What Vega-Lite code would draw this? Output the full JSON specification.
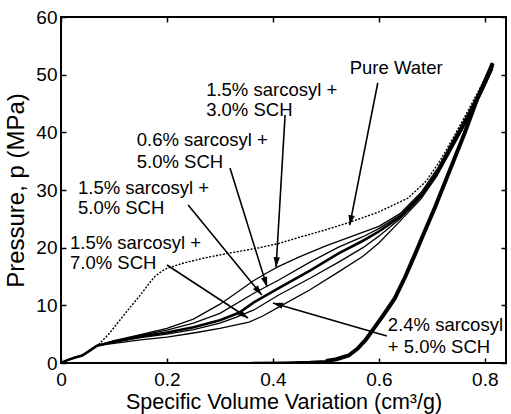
{
  "$schema": "https://vega.github.io/schema/vega-lite/v6.json",
  "width": 445,
  "height": 346,
  "autosize": "none",
  "padding": {"left": 61, "top": 17, "right": 5, "bottom": 51},
  "background": "white",
  "config": {
    "font": "Liberation Sans",
    "view": {"stroke": "black", "strokeWidth": 2},
    "axis": {"grid": false, "domain": false, "ticks": true, "tickColor": "black", "tickWidth": 1.5, "tickSize": -5, "labelColor": "black", "titleColor": "black", "labelFont": "Liberation Sans", "titleFont": "Liberation Sans", "labelFontSize": 19, "titleFontSize": 21, "titleFontWeight": "normal"}
  },
  "datasets": {
    "curves": [
      {"s": "water", "x": 0, "y": 0}, {"s": "water", "x": 0.012, "y": 0.5}, {"s": "water", "x": 0.025, "y": 0.9}, {"s": "water", "x": 0.04, "y": 1.3}, {"s": "water", "x": 0.055, "y": 2.2}, {"s": "water", "x": 0.07, "y": 3.1}, {"s": "water", "x": 0.09, "y": 5.0}, {"s": "water", "x": 0.11, "y": 7.3}, {"s": "water", "x": 0.13, "y": 9.6}, {"s": "water", "x": 0.15, "y": 11.8}, {"s": "water", "x": 0.163, "y": 13.4}, {"s": "water", "x": 0.177, "y": 15.0}, {"s": "water", "x": 0.19, "y": 15.9}, {"s": "water", "x": 0.2, "y": 16.4}, {"s": "water", "x": 0.23, "y": 17.3}, {"s": "water", "x": 0.27, "y": 18.2}, {"s": "water", "x": 0.32, "y": 19.1}, {"s": "water", "x": 0.37, "y": 19.9}, {"s": "water", "x": 0.41, "y": 20.7}, {"s": "water", "x": 0.45, "y": 21.8}, {"s": "water", "x": 0.5, "y": 23.1}, {"s": "water", "x": 0.545, "y": 24.4}, {"s": "water", "x": 0.6, "y": 26.2}, {"s": "water", "x": 0.655, "y": 28.6}, {"s": "water", "x": 0.69, "y": 31.6}, {"s": "water", "x": 0.715, "y": 35.0}, {"s": "water", "x": 0.74, "y": 39.0}, {"s": "water", "x": 0.765, "y": 43.2}, {"s": "water", "x": 0.79, "y": 47.5}, {"s": "water", "x": 0.815, "y": 51.9},

      {"s": "A", "x": 0, "y": 0}, {"s": "A", "x": 0.012, "y": 0.5}, {"s": "A", "x": 0.025, "y": 0.9}, {"s": "A", "x": 0.04, "y": 1.3}, {"s": "A", "x": 0.055, "y": 2.2}, {"s": "A", "x": 0.068, "y": 3.0}, {"s": "A", "x": 0.1, "y": 3.9}, {"s": "A", "x": 0.15, "y": 4.9}, {"s": "A", "x": 0.2, "y": 6.0}, {"s": "A", "x": 0.25, "y": 7.6}, {"s": "A", "x": 0.3, "y": 10.2}, {"s": "A", "x": 0.33, "y": 12.1}, {"s": "A", "x": 0.364, "y": 14.3}, {"s": "A", "x": 0.39, "y": 15.7}, {"s": "A", "x": 0.41, "y": 16.7}, {"s": "A", "x": 0.45, "y": 18.4}, {"s": "A", "x": 0.5, "y": 20.3}, {"s": "A", "x": 0.55, "y": 22.0}, {"s": "A", "x": 0.6, "y": 23.7}, {"s": "A", "x": 0.64, "y": 25.9}, {"s": "A", "x": 0.68, "y": 29.6}, {"s": "A", "x": 0.71, "y": 33.6}, {"s": "A", "x": 0.74, "y": 38.6}, {"s": "A", "x": 0.77, "y": 43.6}, {"s": "A", "x": 0.795, "y": 48.1}, {"s": "A", "x": 0.815, "y": 52.0},

      {"s": "B", "x": 0, "y": 0}, {"s": "B", "x": 0.012, "y": 0.5}, {"s": "B", "x": 0.025, "y": 0.9}, {"s": "B", "x": 0.04, "y": 1.3}, {"s": "B", "x": 0.055, "y": 2.2}, {"s": "B", "x": 0.068, "y": 3.0}, {"s": "B", "x": 0.1, "y": 3.8}, {"s": "B", "x": 0.15, "y": 4.8}, {"s": "B", "x": 0.2, "y": 5.7}, {"s": "B", "x": 0.25, "y": 6.9}, {"s": "B", "x": 0.3, "y": 8.6}, {"s": "B", "x": 0.364, "y": 12.1}, {"s": "B", "x": 0.411, "y": 14.4}, {"s": "B", "x": 0.47, "y": 17.5}, {"s": "B", "x": 0.524, "y": 20.1}, {"s": "B", "x": 0.57, "y": 21.9}, {"s": "B", "x": 0.6, "y": 23.3}, {"s": "B", "x": 0.64, "y": 25.6}, {"s": "B", "x": 0.68, "y": 29.3}, {"s": "B", "x": 0.71, "y": 33.3}, {"s": "B", "x": 0.74, "y": 38.3}, {"s": "B", "x": 0.77, "y": 43.3}, {"s": "B", "x": 0.795, "y": 47.8}, {"s": "B", "x": 0.815, "y": 51.8},

      {"s": "C", "x": 0, "y": 0}, {"s": "C", "x": 0.012, "y": 0.5}, {"s": "C", "x": 0.025, "y": 0.9}, {"s": "C", "x": 0.04, "y": 1.3}, {"s": "C", "x": 0.055, "y": 2.2}, {"s": "C", "x": 0.068, "y": 3.0}, {"s": "C", "x": 0.1, "y": 3.7}, {"s": "C", "x": 0.15, "y": 4.6}, {"s": "C", "x": 0.2, "y": 5.3}, {"s": "C", "x": 0.25, "y": 6.2}, {"s": "C", "x": 0.3, "y": 7.4}, {"s": "C", "x": 0.336, "y": 8.7}, {"s": "C", "x": 0.364, "y": 10.5}, {"s": "C", "x": 0.411, "y": 13.0}, {"s": "C", "x": 0.47, "y": 16.0}, {"s": "C", "x": 0.524, "y": 19.0}, {"s": "C", "x": 0.57, "y": 21.2}, {"s": "C", "x": 0.6, "y": 22.8}, {"s": "C", "x": 0.64, "y": 25.3}, {"s": "C", "x": 0.68, "y": 29.0}, {"s": "C", "x": 0.71, "y": 33.0}, {"s": "C", "x": 0.74, "y": 38.0}, {"s": "C", "x": 0.77, "y": 43.0}, {"s": "C", "x": 0.795, "y": 47.5}, {"s": "C", "x": 0.815, "y": 51.5},

      {"s": "D", "x": 0, "y": 0}, {"s": "D", "x": 0.012, "y": 0.5}, {"s": "D", "x": 0.025, "y": 0.9}, {"s": "D", "x": 0.04, "y": 1.3}, {"s": "D", "x": 0.055, "y": 2.2}, {"s": "D", "x": 0.068, "y": 3.0}, {"s": "D", "x": 0.1, "y": 3.6}, {"s": "D", "x": 0.15, "y": 4.4}, {"s": "D", "x": 0.2, "y": 5.0}, {"s": "D", "x": 0.25, "y": 5.8}, {"s": "D", "x": 0.3, "y": 6.9}, {"s": "D", "x": 0.33, "y": 7.9}, {"s": "D", "x": 0.364, "y": 9.2}, {"s": "D", "x": 0.411, "y": 11.8}, {"s": "D", "x": 0.47, "y": 14.7}, {"s": "D", "x": 0.524, "y": 17.5}, {"s": "D", "x": 0.57, "y": 20.0}, {"s": "D", "x": 0.6, "y": 22.0}, {"s": "D", "x": 0.64, "y": 25.0}, {"s": "D", "x": 0.68, "y": 28.8}, {"s": "D", "x": 0.71, "y": 32.8}, {"s": "D", "x": 0.74, "y": 37.8}, {"s": "D", "x": 0.77, "y": 42.8}, {"s": "D", "x": 0.795, "y": 47.3}, {"s": "D", "x": 0.815, "y": 51.3},

      {"s": "E", "x": 0, "y": 0}, {"s": "E", "x": 0.012, "y": 0.5}, {"s": "E", "x": 0.025, "y": 0.9}, {"s": "E", "x": 0.04, "y": 1.3}, {"s": "E", "x": 0.055, "y": 2.2}, {"s": "E", "x": 0.068, "y": 3.0}, {"s": "E", "x": 0.1, "y": 3.4}, {"s": "E", "x": 0.15, "y": 4.0}, {"s": "E", "x": 0.2, "y": 4.5}, {"s": "E", "x": 0.25, "y": 5.2}, {"s": "E", "x": 0.3, "y": 6.0}, {"s": "E", "x": 0.355, "y": 7.1}, {"s": "E", "x": 0.38, "y": 8.1}, {"s": "E", "x": 0.411, "y": 9.7}, {"s": "E", "x": 0.47, "y": 12.7}, {"s": "E", "x": 0.524, "y": 15.8}, {"s": "E", "x": 0.57, "y": 18.5}, {"s": "E", "x": 0.6, "y": 20.8}, {"s": "E", "x": 0.64, "y": 24.6}, {"s": "E", "x": 0.68, "y": 28.5}, {"s": "E", "x": 0.71, "y": 32.5}, {"s": "E", "x": 0.74, "y": 37.5}, {"s": "E", "x": 0.77, "y": 42.5}, {"s": "E", "x": 0.795, "y": 47.0}, {"s": "E", "x": 0.815, "y": 51.0},

      {"s": "tail", "x": 0.36, "y": 0.05}, {"s": "tail", "x": 0.42, "y": 0.1}, {"s": "tail", "x": 0.47, "y": 0.2}, {"s": "tail", "x": 0.5, "y": 0.35}, {"s": "tail", "x": 0.52, "y": 0.65},
      {"s": "unload", "x": 0.5, "y": 0.35}, {"s": "unload", "x": 0.52, "y": 0.65}, {"s": "unload", "x": 0.543, "y": 1.3}, {"s": "unload", "x": 0.56, "y": 2.5}, {"s": "unload", "x": 0.575, "y": 4.0}, {"s": "unload", "x": 0.593, "y": 6.3}, {"s": "unload", "x": 0.61, "y": 8.5}, {"s": "unload", "x": 0.63, "y": 11.2}, {"s": "unload", "x": 0.65, "y": 15.0}, {"s": "unload", "x": 0.668, "y": 18.8}, {"s": "unload", "x": 0.685, "y": 22.5}, {"s": "unload", "x": 0.706, "y": 27.0}, {"s": "unload", "x": 0.73, "y": 32.5}, {"s": "unload", "x": 0.762, "y": 39.9}, {"s": "unload", "x": 0.787, "y": 46.1}, {"s": "unload", "x": 0.815, "y": 52.0}
    ],
    "labels": [
      {"t": "Pure Water", "x": 0.545, "y": 51.2},
      {"t": "1.5% sarcosyl +", "x": 0.274, "y": 47.3},
      {"t": "3.0% SCH", "x": 0.274, "y": 43.9},
      {"t": "0.6% sarcosyl +", "x": 0.143, "y": 38.7},
      {"t": "5.0% SCH", "x": 0.143, "y": 34.9},
      {"t": "1.5% sarcosyl +", "x": 0.032, "y": 30.3},
      {"t": "5.0% SCH", "x": 0.032, "y": 26.9},
      {"t": "1.5% sarcosyl +", "x": 0.017, "y": 20.8},
      {"t": "7.0% SCH", "x": 0.017, "y": 17.3},
      {"t": "2.4% sarcosyl", "x": 0.617, "y": 6.6},
      {"t": "+ 5.0% SCH", "x": 0.617, "y": 2.8}
    ],
    "arrows": [
      {"x": 0.598, "y": 48.6, "x2": 0.545, "y2": 23.9},
      {"x": 0.423, "y": 43.0, "x2": 0.406, "y2": 16.6},
      {"x": 0.319, "y": 33.8, "x2": 0.389, "y2": 13.2},
      {"x": 0.24, "y": 27.4, "x2": 0.379, "y2": 11.8},
      {"x": 0.2, "y": 17.0, "x2": 0.353, "y2": 7.8},
      {"x": 0.615, "y": 4.7, "x2": 0.4, "y2": 10.4}
    ]
  },
  "layer": [
    {
      "data": {"name": "curves"},
      "transform": [{"filter": "datum.s == 'water'"}],
      "mark": {"type": "line", "color": "black", "strokeWidth": 1.4, "strokeDash": [2, 1.5]},
      "encoding": {
        "x": {"field": "x", "type": "quantitative", "scale": {"domain": [0, 0.84], "nice": false}, "axis": {"orient": "bottom", "values": [0, 0.2, 0.4, 0.6, 0.8], "labelExpr": "datum.value == 0 ? '0' : format(datum.value, '.1f')", "title": "Specific Volume Variation (cm³/g)", "titleFontSize": 21.5, "labelPadding": 12, "titlePadding": 2, "labelFlush": false}},
        "y": {"field": "y", "type": "quantitative", "scale": {"domain": [0, 60], "nice": false}, "axis": {"orient": "left", "values": [0, 10, 20, 30, 40, 50, 60], "title": "Pressure, p (MPa)", "titleFontSize": 24, "labelPadding": 9, "titlePadding": 7, "labelFlush": false}}
      }
    },
    {
      "data": {"name": "curves"},
      "transform": [{"filter": {"field": "s", "oneOf": ["A", "B", "D", "E"]}}],
      "mark": {"type": "line", "color": "black", "strokeWidth": 1.3},
      "encoding": {
        "x": {"field": "x", "type": "quantitative", "scale": {"domain": [0, 0.84], "nice": false}, "axis": null},
        "y": {"field": "y", "type": "quantitative", "scale": {"domain": [0, 60], "nice": false}, "axis": null},
        "detail": {"field": "s"}
      }
    },
    {
      "data": {"name": "curves"},
      "transform": [{"filter": "datum.s == 'C'"}],
      "mark": {"type": "line", "color": "black", "strokeWidth": 2.6},
      "encoding": {
        "x": {"field": "x", "type": "quantitative", "scale": {"domain": [0, 0.84], "nice": false}, "axis": null},
        "y": {"field": "y", "type": "quantitative", "scale": {"domain": [0, 60], "nice": false}, "axis": null}
      }
    },
    {
      "data": {"name": "curves"},
      "transform": [{"filter": "datum.s == 'tail'"}],
      "mark": {"type": "line", "color": "black", "strokeWidth": 2},
      "encoding": {
        "x": {"field": "x", "type": "quantitative", "scale": {"domain": [0, 0.84], "nice": false}, "axis": null},
        "y": {"field": "y", "type": "quantitative", "scale": {"domain": [0, 60], "nice": false}, "axis": null}
      }
    },
    {
      "data": {"name": "curves"},
      "transform": [{"filter": "datum.s == 'unload'"}],
      "mark": {"type": "line", "color": "black", "strokeWidth": 4},
      "encoding": {
        "x": {"field": "x", "type": "quantitative", "scale": {"domain": [0, 0.84], "nice": false}, "axis": null},
        "y": {"field": "y", "type": "quantitative", "scale": {"domain": [0, 60], "nice": false}, "axis": null}
      }
    },
    {
      "data": {"name": "arrows"},
      "mark": {"type": "rule", "color": "black", "strokeWidth": 1.6},
      "encoding": {
        "x": {"field": "x", "type": "quantitative", "scale": {"domain": [0, 0.84], "nice": false}, "axis": null},
        "y": {"field": "y", "type": "quantitative", "scale": {"domain": [0, 60], "nice": false}, "axis": null},
        "x2": {"field": "x2"},
        "y2": {"field": "y2"}
      }
    },
    {
      "data": {"name": "arrows"},
      "transform": [{"calculate": "atan2((datum.x2 - datum.x) * 530, (datum.y2 - datum.y) * 5.767) * 180 / PI", "as": "ang"}],
      "mark": {"type": "point", "shape": "M0,0L0.32,1L-0.32,1Z", "filled": true, "color": "black", "size": 400, "opacity": 1},
      "encoding": {
        "x": {"field": "x2", "type": "quantitative", "scale": {"domain": [0, 0.84], "nice": false}, "axis": null},
        "y": {"field": "y2", "type": "quantitative", "scale": {"domain": [0, 60], "nice": false}, "axis": null},
        "angle": {"field": "ang", "type": "quantitative", "scale": null}
      }
    },
    {
      "data": {"name": "labels"},
      "mark": {"type": "text", "align": "left", "baseline": "middle", "fontSize": 18.5, "font": "Liberation Sans", "color": "black"},
      "encoding": {
        "x": {"field": "x", "type": "quantitative", "scale": {"domain": [0, 0.84], "nice": false}, "axis": {"orient": "top", "values": [0, 0.2, 0.4, 0.6, 0.8], "labels": false, "title": null}},
        "y": {"field": "y", "type": "quantitative", "scale": {"domain": [0, 60], "nice": false}, "axis": {"orient": "right", "values": [0, 10, 20, 30, 40, 50, 60], "labels": false, "title": null}},
        "text": {"field": "t"}
      }
    }
  ],
  "resolve": {"axis": {"x": "independent", "y": "independent"}}
}
